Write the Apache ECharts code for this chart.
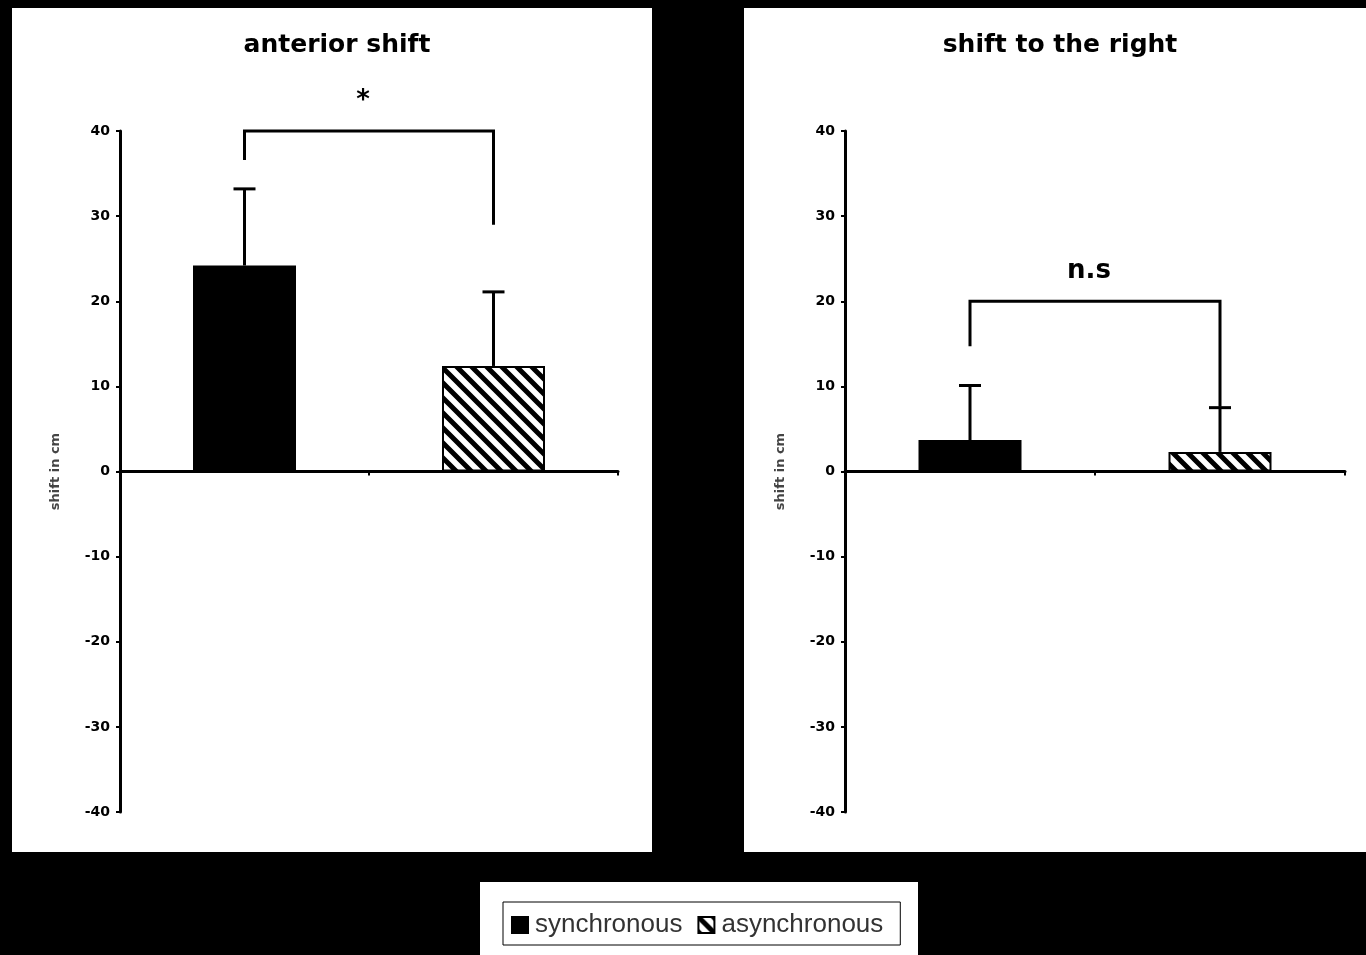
<!DOCTYPE html>
<html>
<head>
<meta charset="utf-8">
<script src="https://cdn.jsdelivr.net/npm/echarts@6/dist/echarts.min.js"></script>
<style>
html, body { margin: 0; padding: 0; background: #000; }
#chart { width: 1366px; height: 955px; }
</style>
</head>
<body>
<div id="chart"></div>
<script>
// data
const conditions = ['synchronous', 'asynchronous'];
const panelTitles = ['anterior shift', 'shift to the right'];
const yTicks = [-40, 40, 10];   // min, max, interval
const yName = 'shift in cm';

const anteriorMean = [24.2, 12.4];
const anteriorErr = [9.0, 8.7];
const rightMean = [3.7, 2.3];
const rightErr = [6.4, 5.2];

// brackets: [top, left leg end, right leg end], label
const anteriorBracket = [40, 36.6, 29.0];
const rightBracket = [20, 14.7, 7.6];
const bracketLabels = ['*', 'n.s'];

// hatch pattern for asynchronous
function hatch() {
    const s = 15;
    const c = document.createElement('canvas');
    c.width = s; c.height = s;
    const ctx = c.getContext('2d');
    ctx.fillStyle = '#fff';
    ctx.fillRect(0, 0, s, s);
    ctx.strokeStyle = '#000';
    ctx.lineWidth = 5;
    ctx.beginPath();
    for (let k = -1; k <= 1; k++) {
        ctx.moveTo(k * s - s, -s);
        ctx.lineTo(k * s + 2 * s, 2 * s);
    }
    ctx.stroke();
    return c;
}
const hatchFill = { image: hatch(), repeat: 'repeat' };

const grids = [
    { left: 120, top: 131, width: 498, height: 681 },
    { left: 845, top: 131, width: 500, height: 681 }
];

const chart = echarts.init(document.getElementById('chart'));

function barSeries(gi, means) {
    return [
        {
            name: conditions[0], type: 'bar', xAxisIndex: gi, yAxisIndex: gi,
            data: [means[0], '-'], barWidth: 103, barGap: '-100%',
            itemStyle: { color: '#000', borderColor: '#000', borderWidth: 2 }
        },
        {
            name: conditions[1], type: 'bar', xAxisIndex: gi, yAxisIndex: gi,
            data: ['-', means[1]], barWidth: 103, barGap: '-100%',
            itemStyle: { color: hatchFill, borderColor: '#000', borderWidth: 2 }
        }
    ];
}

function errSeries(gi, means, errs) {
    return {
        type: 'custom', xAxisIndex: gi, yAxisIndex: gi, z: 1,
        data: means.map((m, i) => [i, m, m + errs[i]]),
        renderItem(params, api) {
            const p0 = api.coord([api.value(0), api.value(1)]);
            const p1 = api.coord([api.value(0), api.value(2)]);
            const style = { stroke: '#000', lineWidth: 3 };
            return {
                type: 'group',
                children: [
                    { type: 'line', shape: { x1: p0[0], y1: p0[1], x2: p1[0], y2: p1[1] }, style },
                    { type: 'line', shape: { x1: p1[0] - 11, y1: p1[1], x2: p1[0] + 11, y2: p1[1] }, style }
                ]
            };
        }
    };
}

function bracketSeries(gi, b, label) {
    return {
        type: 'custom', xAxisIndex: gi, yAxisIndex: gi, z: 3,
        data: [[0, 1, b[0], b[1], b[2]]],
        renderItem(params, api) {
            const tl = api.coord([api.value(0), api.value(2)]);
            const tr = api.coord([api.value(1), api.value(2)]);
            const bl = api.coord([api.value(0), api.value(3)]);
            const br = api.coord([api.value(1), api.value(4)]);
            return {
                type: 'group',
                children: [
                    {
                        type: 'polyline',
                        shape: { points: [bl, tl, tr, br] },
                        style: { stroke: '#000', lineWidth: 3, fill: null }
                    },
                    {
                        type: 'text',
                        style: {
                            text: label, x: (tl[0] + tr[0]) / 2 - 6, y: tl[1] - 30,
                            align: 'center', verticalAlign: 'middle',
                            font: 'bold 26px "DejaVu Sans"', fill: '#000'
                        }
                    }
                ]
            };
        }
    };
}

const titleStyle = { fontSize: 25, fontWeight: 'bold', color: '#000', fontFamily: 'DejaVu Sans' };

const option = {
    backgroundColor: '#000',
    animation: false,
    textStyle: { fontFamily: 'Liberation Sans' },
    title: [
        { text: panelTitles[0], left: 332, top: 28, textAlign: 'center', textStyle: titleStyle },
        { text: panelTitles[1], left: 1055, top: 28, textAlign: 'center', textStyle: titleStyle }
    ],
    graphic: [
        { type: 'rect', z: -10, shape: { x: 12, y: 8, width: 640, height: 844 }, style: { fill: '#fff' } },
        { type: 'rect', z: -10, shape: { x: 744, y: 8, width: 622, height: 844 }, style: { fill: '#fff' } },
        { type: 'rect', z: -10, shape: { x: 480, y: 882, width: 438, height: 73 }, style: { fill: '#fff' } }
    ],
    legend: {
        left: 503, top: 902,
        data: conditions,
        icon: 'rect', itemWidth: 16, itemHeight: 16, itemGap: 15,
        backgroundColor: '#fff', borderColor: '#000', borderWidth: 1,
        padding: [10, 17, 7, 8],
        textStyle: { fontSize: 26, color: '#333', padding: [0, 0, 0, 2] }
    },
    grid: grids,
    xAxis: grids.map((g, i) => ({
        type: 'category', gridIndex: i, data: conditions,
        axisLine: { onZero: true, lineStyle: { color: '#000', width: 3 } },
        axisTick: { show: true, length: 4, lineStyle: { color: '#000', width: 2 } },
        axisLabel: { show: false }
    })),
    yAxis: grids.map((g, i) => ({
        type: 'value', gridIndex: i,
        min: yTicks[0], max: yTicks[1], interval: yTicks[2],
        name: yName, nameLocation: 'middle', nameRotate: 90, nameGap: 58,
        nameTextStyle: { fontSize: 13, color: '#444', fontWeight: 'bold', fontFamily: 'DejaVu Sans' },
        splitLine: { show: false },
        axisLine: { show: true, lineStyle: { color: '#000', width: 3 } },
        axisTick: { show: true, length: 4, lineStyle: { color: '#000', width: 2 } },
        axisLabel: { fontSize: 14, fontWeight: 'bold', color: '#000', margin: 10, fontFamily: 'DejaVu Sans' }
    })),
    series: [
        ...barSeries(0, anteriorMean),
        errSeries(0, anteriorMean, anteriorErr),
        bracketSeries(0, anteriorBracket, bracketLabels[0]),
        ...barSeries(1, rightMean),
        errSeries(1, rightMean, rightErr),
        bracketSeries(1, rightBracket, bracketLabels[1])
    ]
};

chart.setOption(option);
</script>
</body>
</html>
